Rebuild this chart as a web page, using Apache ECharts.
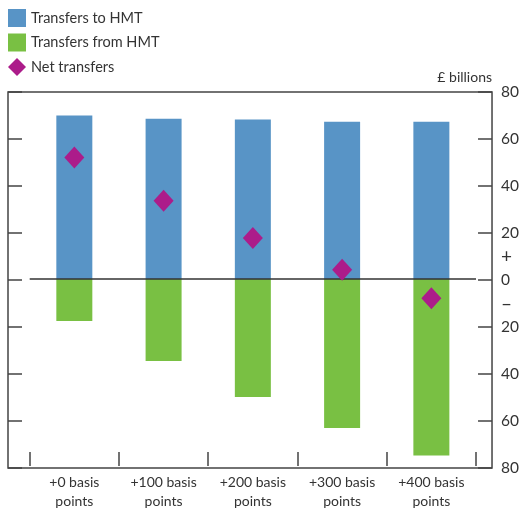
<!DOCTYPE html>
<html>
<head>
<meta charset="utf-8">
<style>
  html, body { margin: 0; padding: 0; background: #fff; }
  #chart { width: 522px; height: 511px; }
</style>
<script src="https://cdn.jsdelivr.net/npm/echarts@6/dist/echarts.min.js"></script>
</head>
<body>
<div id="chart"></div>
<script>
// Scenario categories (rate shocks)
const categories = ['+0 basis\npoints', '+100 basis\npoints', '+200 basis\npoints', '+300 basis\npoints', '+400 basis\npoints'];
// £ billions
const transfersTo = [70, 68.6, 68.2, 67.3, 67.3];
const transfersFrom = [-18, -35.1, -50.5, -63.7, -75.5];
const netTransfers = [52, 33.5, 17.5, 4, -8.2];
// Right-hand scale
const yMin = -80, yMax = 80, yStep = 20;

const FONT = 'Lato, "Open Sans", sans-serif';
const TEXT = '#333';
const LINE = '#444';

const chart = echarts.init(document.getElementById('chart'), null, { renderer: 'canvas' });

chart.setOption({
  animation: false,
  textStyle: { fontFamily: FONT, color: TEXT },
  legend: {
    orient: 'vertical',
    left: 8, top: 9, padding: 0,
    itemWidth: 18, itemHeight: 18, itemGap: 6.5,
    textStyle: { fontSize: 14.5, color: TEXT, fontFamily: FONT },
    data: [
      { name: 'Transfers to HMT', icon: 'rect' },
      { name: 'Transfers from HMT', icon: 'rect' },
      { name: 'Net transfers', icon: 'diamond' }
    ]
  },
  grid: [
    { left: 8, right: 24, top: 92, bottom: 43, show: true, borderColor: LINE, borderWidth: 1.5, backgroundColor: 'transparent' },
    { left: 29.7, right: 46, top: 92, bottom: 43 }
  ],
  xAxis: [
    { gridIndex: 0, type: 'value', show: false, min: 0, max: 1 },
    {
      gridIndex: 1, type: 'category', data: categories, position: 'bottom',
      axisLine: { show: false, onZero: false },
      axisTick: { show: true, inside: true, length: 14, lineStyle: { color: LINE, width: 1.5 } },
      axisLabel: { fontSize: 14, color: TEXT, lineHeight: 19, margin: 7, fontFamily: FONT }
    }
  ],
  yAxis: [
    {
      gridIndex: 0, type: 'value', position: 'left', min: yMin, max: yMax, interval: yStep,
      axisLine: { show: false }, splitLine: { show: false },
      axisTick: { show: true, inside: true, length: 14, lineStyle: { color: LINE, width: 1.5 } },
      axisLabel: { show: false }
    },
    {
      gridIndex: 0, type: 'value', position: 'right', min: yMin, max: yMax, interval: yStep,
      name: '£ billions', nameLocation: 'end', nameGap: 8,
      nameTextStyle: { align: 'right', fontSize: 14, color: TEXT, fontFamily: FONT },
      axisLine: { show: false }, splitLine: { show: false },
      axisTick: { show: true, inside: true, length: 14, lineStyle: { color: LINE, width: 1.5 } },
      axisLabel: { fontSize: 15.5, color: TEXT, margin: 9, fontFamily: FONT, formatter: v => String(Math.abs(v)) }
    },
    {
      gridIndex: 0, type: 'value', position: 'right', min: yMin, max: yMax, interval: 10,
      axisLine: { show: false }, splitLine: { show: false }, axisTick: { show: false },
      axisLabel: {
        fontSize: 19, color: TEXT, margin: 9, fontFamily: FONT,
        formatter: v => (v === 10 ? '+' : (v === -10 ? '–' : ''))
      }
    },
    { gridIndex: 1, type: 'value', min: yMin, max: yMax, interval: yStep, show: false }
  ],
  series: [
    {
      name: 'Transfers to HMT', type: 'bar', xAxisIndex: 1, yAxisIndex: 3,
      data: transfersTo, barWidth: 36, barGap: '-100%',
      itemStyle: { color: '#5894c6' },
      markLine: {
        silent: true, symbol: 'none', label: { show: false },
        lineStyle: { color: '#333', width: 1.5, type: 'solid' },
        data: [{ yAxis: 0 }]
      }
    },
    {
      name: 'Transfers from HMT', type: 'bar', xAxisIndex: 1, yAxisIndex: 3,
      data: transfersFrom, barWidth: 36, barGap: '-100%',
      itemStyle: { color: '#79c043' }
    },
    {
      name: 'Net transfers', type: 'scatter', xAxisIndex: 1, yAxisIndex: 3,
      data: netTransfers, symbol: 'diamond', symbolSize: [20, 22],
      itemStyle: { color: '#ac1c8a', opacity: 1 }, z: 5
    }
  ]
});
</script>
</body>
</html>
